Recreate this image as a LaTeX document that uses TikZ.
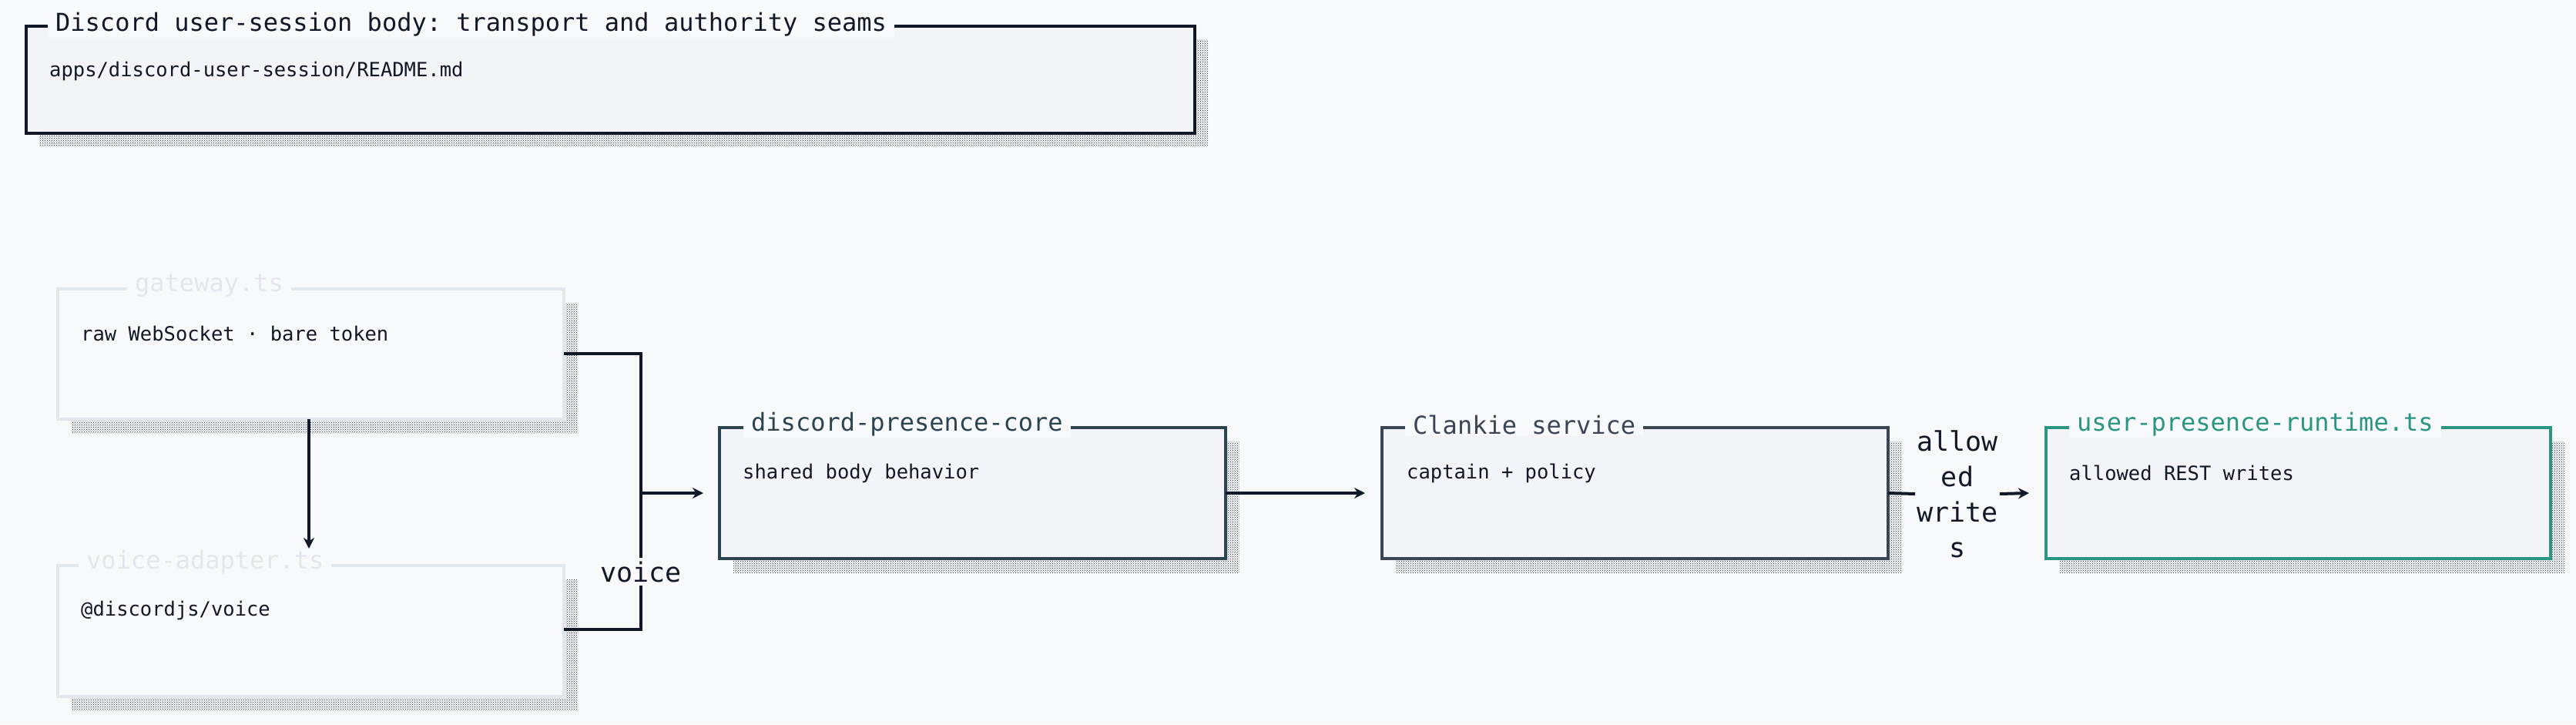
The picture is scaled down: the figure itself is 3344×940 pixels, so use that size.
\documentclass[tikz,border=0pt]{standalone}
\usepackage{fontspec}
\setmonofont{DejaVu Sans Mono}
\usetikzlibrary{patterns,arrows.meta}
\definecolor{bg}{HTML}{F8F9FB}
\definecolor{boxfill}{HTML}{F3F4F7}
\definecolor{ink}{HTML}{111827}
\definecolor{ghost}{HTML}{E2E7EE}
\definecolor{coreb}{HTML}{2B4450}
\definecolor{clank}{HTML}{3B4556}
\definecolor{teal}{HTML}{2A9580}
\begin{document}
\begin{tikzpicture}[x=1pt,y=-1pt,
  shadow/.style={pattern=crosshatch dots, pattern color=ink},
  box/.style={draw=#1, line width=4pt, fill=boxfill},
  lab/.style={anchor=west, fill=bg, inner xsep=10pt, inner ysep=2pt, font=\ttfamily\fontsize{32}{36}\selectfont},
  body/.style={anchor=west, font=\ttfamily\fontsize{25.5}{30}\selectfont, text=ink, inner sep=0pt},
  edge/.style={draw=ink, line width=4pt, -{Stealth[length=14pt,width=14pt]}},
  plain/.style={draw=ink, line width=4pt},
  big/.style={font=\ttfamily\fontsize{35}{46}\selectfont, text=ink, align=center}]
\useasboundingbox (0,0) rectangle (3344,940);
\fill[bg] (0,0) rectangle (3344,940);
% title
\fill[shadow] (51,51) rectangle (1568,190);
\draw[box=ink] (34,34) rectangle (1551,173);
\node[lab,text=ink] (tt) at (62,32) {Discord user-session body: transport and authority seams};
\node[body] (ts) at (64,92) {apps/discord-user-session/README.md};
% gateway
\fill[shadow] (93,393) rectangle (750,562);
\draw[box=ghost,fill=bg] (75,375) rectangle (732,544);
\coordinate (gwR) at (732,459);
\coordinate (gwB) at (401,544);
\node[lab,text=ghost] (gl) at (165,371) {gateway.ts};
\node[body] (gb) at (105,433) {raw WebSocket · bare token};
% voice adapter
\fill[shadow] (93,752) rectangle (750,922);
\draw[box=ghost,fill=bg] (75,734) rectangle (732,904);
\coordinate (vaR) at (732,817);
\coordinate (vaT) at (401,712);
\node[lab,text=ghost] (vl) at (102,730) {voice-adapter.ts};
\node[body] (vb) at (105,792) {@discordjs/voice};
% core
\fill[shadow] (952,573) rectangle (1609,743);
\draw[box=coreb] (934,555) rectangle (1591,725);
\coordinate (coL) at (913,640);
\coordinate (coR) at (1591,640);
\node[lab,text=coreb] (cl) at (965,551) {discord-presence-core};
\node[body] (cb) at (964,614) {shared body behavior};
% clankie
\fill[shadow] (1812,573) rectangle (2469,743);
\draw[box=clank] (1794,555) rectangle (2451,725);
\coordinate (clL) at (1772,640);
\coordinate (clR) at (2451,640);
\node[lab,text=clank] (kl) at (1824,551) {Clankie service};
\node[body] (kb) at (1826,614) {captain + policy};
% runtime
\fill[shadow] (2674,573) rectangle (3329,743);
\draw[box=teal] (2656,555) rectangle (3311,725);
\coordinate (rtL) at (2634,640);
\node[lab,text=teal] (rl) at (2686,551) {user-presence-runtime.ts};
\node[body] (rb) at (2686,614) {allowed REST writes};
% connectors
\coordinate (jn) at (832,640);
\node[big,fill=bg,inner sep=4pt] (voice) at (832,742) {voice};
\draw[edge] (gwB) -- (vaT);
\draw[edge] (gwR) -| (jn) -- (coL);
\draw[plain] (vaR) -| (voice.south);
\draw[plain] (jn) -- (voice.north);
\draw[edge] (coR) -- (clL);
\node[big,fill=bg,inner sep=2pt] (aw) at (2541,641) {allow\\ed\\write\\s};
\draw[plain] (clR) -- (aw.west);
\draw[edge] (aw.east) -- (rtL);
\end{tikzpicture}
\end{document}
